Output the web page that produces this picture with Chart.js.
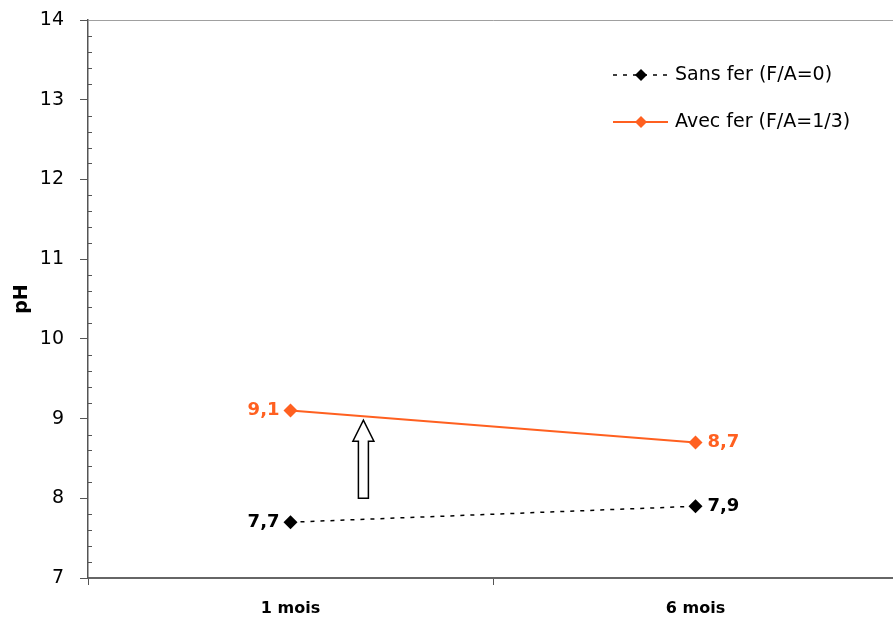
<!DOCTYPE html>
<html>
<head>
<meta charset="utf-8">
<script src="https://cdn.jsdelivr.net/npm/chart.js@4"></script>
<style>
  html, body { margin: 0; padding: 0; background: #fff; overflow: hidden; }
  #wrap { width: 893px; height: 619px; overflow: hidden; }
  #wrap div { width: 905px; height: 619px; position: relative; }
</style>
</head>
<body>
<div id="wrap"><div><canvas id="myChart"></canvas></div></div>
<script>
const labels = ['1 mois', '6 mois'];
const sansFer = [7.7, 7.9];
const avecFer = [9.1, 8.7];
const seriesNames = ['Sans fer (F/A=0)', 'Avec fer (F/A=1/3)'];
const yMin = 7, yMax = 14;
// hollow arrow: category position and pH range
const arrowX = 0.18, arrowFrom = 8.0, arrowTo = 8.98;

const orange = '#ff6020';
const font = '"DejaVu Sans", Arial, sans-serif';

// minor ticks, value labels, arrow and legend
const extras = {
  id: 'extras',
  afterDatasetsDraw(chart) {
    const ctx = chart.ctx;
    const x = chart.scales.x, y = chart.scales.y;
    ctx.save();

    // minor ticks inside the y axis
    ctx.strokeStyle = '#555';
    ctx.lineWidth = 1;
    for (let v = yMin + 0.2; v < yMax; v += 0.2) {
      if (Math.abs(v - Math.round(v)) < 0.01) continue;
      const py = Math.round(y.getPixelForValue(v)) + 0.5;
      ctx.beginPath();
      ctx.moveTo(x.left, py);
      ctx.lineTo(x.left + 4, py);
      ctx.stroke();
    }

    // value labels
    ctx.font = 'bold 18px ' + font;
    ctx.textBaseline = 'middle';
    chart.data.datasets.forEach((ds, i) => {
      const meta = chart.getDatasetMeta(i);
      ctx.fillStyle = ds.borderColor;
      meta.data.forEach((pt, j) => {
        const txt = String(ds.data[j]).replace('.', ',');
        if (j === 0) {
          ctx.textAlign = 'right';
          ctx.fillText(txt, pt.x - 11, pt.y);
        } else {
          ctx.textAlign = 'left';
          ctx.fillText(txt, pt.x + 12, pt.y);
        }
      });
    });

    // hollow arrow
    const ax = x.getPixelForValue(arrowX);
    const yb = y.getPixelForValue(arrowFrom);
    const yt = y.getPixelForValue(arrowTo);
    const yh = yt + 21;
    ctx.fillStyle = '#fff';
    ctx.strokeStyle = '#000';
    ctx.lineWidth = 1.5;
    ctx.lineJoin = 'miter';
    ctx.beginPath();
    ctx.moveTo(ax - 5, yb);
    ctx.lineTo(ax - 5, yh);
    ctx.lineTo(ax - 10.5, yh);
    ctx.lineTo(ax, yt);
    ctx.lineTo(ax + 10.5, yh);
    ctx.lineTo(ax + 5, yh);
    ctx.lineTo(ax + 5, yb);
    ctx.closePath();
    ctx.fill();
    ctx.stroke();

    // legend
    const lx = 613, ly = [75, 122];
    ctx.font = '19px ' + font;
    ctx.textAlign = 'left';
    ctx.textBaseline = 'middle';
    chart.data.datasets.forEach((ds, i) => {
      ctx.strokeStyle = ds.borderColor;
      ctx.lineWidth = ds.borderWidth;
      ctx.setLineDash(ds.borderDash || []);
      ctx.beginPath();
      ctx.moveTo(lx, ly[i]);
      ctx.lineTo(lx + 55, ly[i]);
      ctx.stroke();
      ctx.setLineDash([]);
      ctx.fillStyle = ds.borderColor;
      ctx.beginPath();
      ctx.moveTo(lx + 28, ly[i] - 6);
      ctx.lineTo(lx + 34, ly[i]);
      ctx.lineTo(lx + 28, ly[i] + 6);
      ctx.lineTo(lx + 22, ly[i]);
      ctx.closePath();
      ctx.fill();
      ctx.fillStyle = '#000';
      ctx.fillText(seriesNames[i], lx + 62, ly[i]);
    });

    ctx.restore();
  }
};

new Chart('myChart', {
  type: 'line',
  data: {
    labels,
    datasets: [
      {
        label: seriesNames[0],
        data: sansFer,
        borderColor: '#000',
        backgroundColor: '#000',
        borderWidth: 1.5,
        borderDash: [4, 6],
        pointStyle: 'rectRot',
        pointRadius: 7,
        pointBorderWidth: 0,
      },
      {
        label: seriesNames[1],
        data: avecFer,
        borderColor: orange,
        backgroundColor: orange,
        borderWidth: 2,
        pointStyle: 'rectRot',
        pointRadius: 7,
        pointBorderWidth: 0,
      },
    ],
  },
  options: {
    responsive: true,
    maintainAspectRatio: false,
    animation: false,
    layout: { padding: { top: 20, right: 1, left: 0, bottom: 0 } },
    plugins: {
      legend: { display: false },
      tooltip: { enabled: false },
    },
    scales: {
      x: {
        offset: true,
        grid: { offset: true, drawOnChartArea: false, tickLength: 7, color: '#555', lineWidth: 1 },
        border: { color: '#666', width: 2 },
        ticks: { color: '#000', font: { family: font, size: 16, weight: 'bold' }, padding: 14 },
        afterFit(scale) { scale.height = 41; scale.paddingLeft = 0; scale.paddingRight = 0; },
      },
      y: {
        min: yMin,
        max: yMax,
        grid: {
          drawOnChartArea: true,
          tickLength: 8,
          color: (c) => (c.tick && c.tick.value === yMax ? '#a0a0a0' : 'rgba(0,0,0,0)'),
          tickColor: '#555',
        },
        border: { color: '#555', width: 1.5 },
        ticks: { stepSize: 1, color: '#000', font: { family: font, size: 19 }, padding: 16 },
        title: { display: true, text: 'pH', color: '#000', font: { family: font, size: 19, weight: 'bold' }, padding: { top: 11, bottom: 0 } },
        afterFit(scale) { scale.width = 88; scale.paddingTop = 0; scale.paddingBottom = 0; },
      },
    },
  },
  plugins: [extras],
});
</script>
</body>
</html>
